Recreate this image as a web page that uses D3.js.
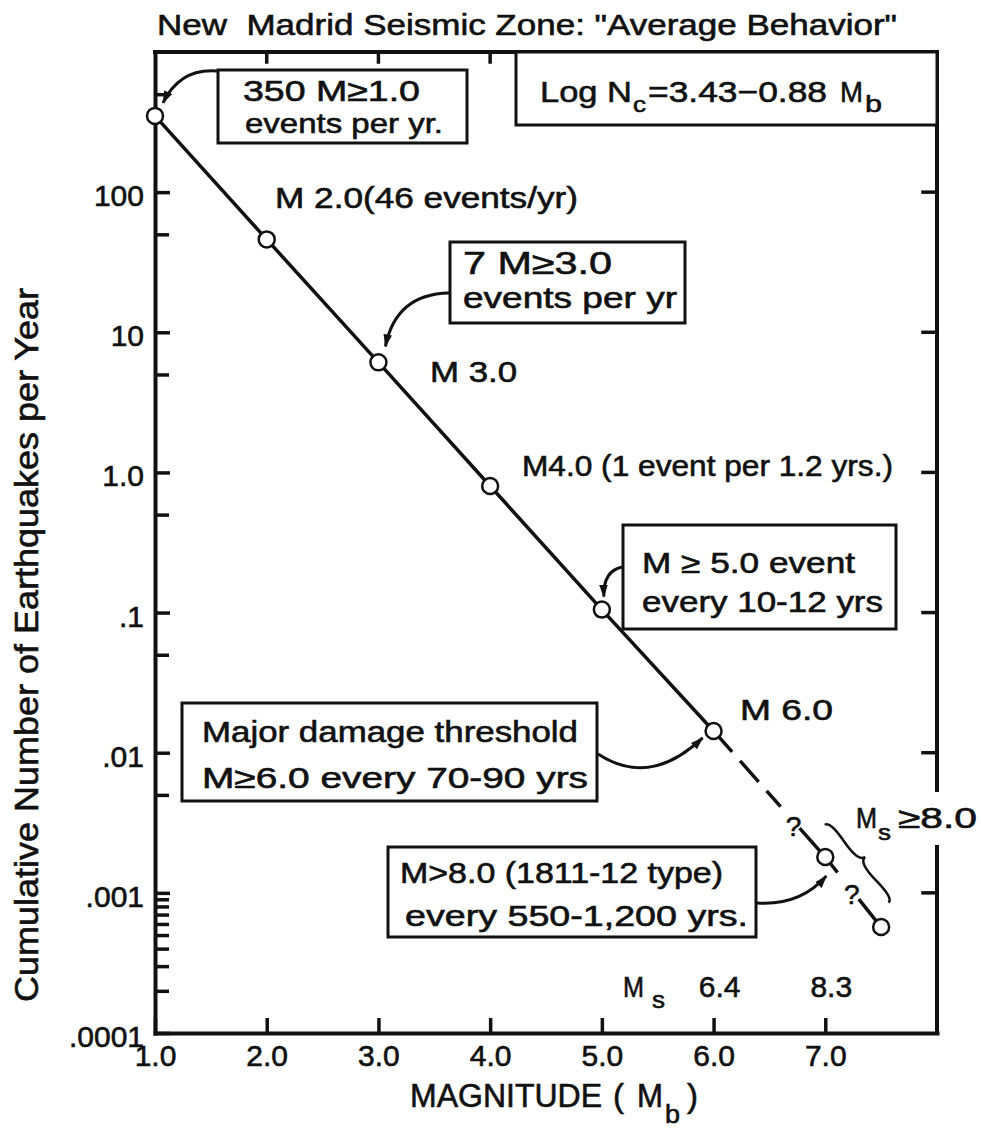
<!DOCTYPE html>
<html>
<head>
<meta charset="utf-8">
<title>New Madrid Seismic Zone: Average Behavior</title>
<script src="https://cdn.jsdelivr.net/npm/d3@7"></script>
<style>
  html, body { margin: 0; padding: 0; background: #fff; }
  svg { display: block; }
  text {
    font-family: "Liberation Sans", Arial, sans-serif;
    fill: #111; stroke: #111; stroke-width: 0.6px;
    white-space: pre;
  }
</style>
</head>
<body>
<svg id="chart" width="981" height="1129"></svg>
<script>
// Cumulative number of events per year vs. body-wave magnitude
const magnitudes = [1.0, 2.0, 3.0, 4.0, 5.0, 6.0, 7.0, 7.5];
const eventsPerYear = [350, 46, 6.1, 0.8, 0.105, 0.0143, 0.0018, 0.00057];

const xTickValues = [1, 2, 3, 4, 5, 6, 7];
const xTickLabels = ["1.0", "2.0", "3.0", "4.0", "5.0", "6.0", "7.0"];
const yTickValues = [0.0001, 0.001, 0.01, 0.1, 1, 10, 100];
const yTickLabels = [".0001", ".001", ".01", ".1", "1.0", "10", "100"];
const yMinorTicks = [500, 50, 5, 0.5, 0.05, 0.005,
  0.0009, 0.0008, 0.0007, 0.0006, 0.0005, 0.0004, 0.0003, 0.0002];
const rightTickValues = [0.001, 0.01, 0.1, 1, 10, 100];

// Ms equivalents printed above the Mb axis
const msMagnitudes = [6, 7];
const msLabels = ["6.4", "8.3"];

// how the fitted line is inked: solid, dashed, broken by "?" marks
const lineSegments = [
  { from: 1.0, to: 6.0, dash: null },
  { from: 6.0, to: 6.6, dash: "28 12" },
  { from: 6.77, to: 7.11, dash: null },
  { from: 7.3, to: 7.5, dash: null },
];
const questionMarks = [6.69, 7.21];

const svg = d3.select("#chart");
svg.append("rect").attr("width", 981).attr("height", 1129).attr("fill", "#fff");

const ink = "#111";
const frame = { left: 155, right: 937, top: 52, bottom: 1033 };

const x = d3.scaleLinear().domain([1, 8]).range([frame.left, frame.right]);
const y = d3.scaleLog().domain([1e-4, 1e3]).range([frame.bottom, frame.top]);

// position on the drawn line (straight between plotted points in log space)
const rateAt = (m) => {
  const i = Math.max(0, Math.min(magnitudes.length - 2, d3.bisectRight(magnitudes, m) - 1));
  const t = (m - magnitudes[i]) / (magnitudes[i + 1] - magnitudes[i]);
  const a = Math.log10(eventsPerYear[i]);
  const b = Math.log10(eventsPerYear[i + 1]);
  return Math.pow(10, a + t * (b - a));
};
const pos = (m) => [x(m), y(rateAt(m))];

// ---- axes ----
const leftAxis = svg.append("g")
  .attr("transform", `translate(${frame.left},0)`)
  .call(
    d3.axisLeft(y).tickValues(yTickValues)
      .tickFormat((d, i) => yTickLabels[i])
      .tickSize(-15).tickSizeOuter(0).tickPadding(11),
  );
leftAxis.select(".domain").attr("stroke", ink).attr("stroke-width", 4)
  .attr("stroke-linecap", "square");
leftAxis.selectAll(".tick line").attr("stroke", ink).attr("stroke-width", 3.5);
leftAxis.selectAll(".tick text").attr("font-size", 30).attr("dy", "0.45em");

const minorAxis = svg.append("g")
  .attr("transform", `translate(${frame.left},0)`)
  .call(d3.axisLeft(y).tickValues(yMinorTicks).tickFormat("").tickSize(-14).tickSizeOuter(0));
minorAxis.select(".domain").remove();
minorAxis.selectAll(".tick line").attr("stroke", ink).attr("stroke-width", 3.5);

const bottomAxis = svg.append("g")
  .attr("transform", `translate(0,${frame.bottom})`)
  .call(
    d3.axisBottom(x).tickValues(xTickValues)
      .tickFormat((d, i) => xTickLabels[i])
      .tickSize(-15).tickSizeOuter(0).tickPadding(12),
  );
bottomAxis.select(".domain").attr("stroke", ink).attr("stroke-width", 4)
  .attr("stroke-linecap", "square");
bottomAxis.selectAll(".tick line").attr("stroke", ink).attr("stroke-width", 3.5);
bottomAxis.selectAll(".tick text").attr("font-size", 30);

// top border with short inward ticks
const border = svg.append("g").attr("stroke", ink).attr("stroke-linecap", "square");
border.append("line")
  .attr("x1", frame.left).attr("x2", frame.right)
  .attr("y1", frame.top).attr("y2", frame.top)
  .attr("stroke-width", 4);
border.selectAll(".top-tick").data(xTickValues.slice(1)).join("line")
  .attr("class", "top-tick")
  .attr("x1", (d) => x(d)).attr("x2", (d) => x(d))
  .attr("y1", frame.top).attr("y2", frame.top + 10)
  .attr("stroke-width", 3.5);

// right border, broken where the Ms>=8.0 note sits
const rightPieces = [[frame.top, 790], [847, frame.bottom]];
border.selectAll(".right-piece").data(rightPieces).join("line")
  .attr("class", "right-piece")
  .attr("x1", frame.right).attr("x2", frame.right)
  .attr("y1", (d) => d[0]).attr("y2", (d) => d[1])
  .attr("stroke-width", 4);
border.selectAll(".right-tick").data(rightTickValues).join("line")
  .attr("class", "right-tick")
  .attr("x1", frame.right).attr("x2", frame.right - 14)
  .attr("y1", (d) => y(d)).attr("y2", (d) => y(d))
  .attr("stroke-width", 3.5);

// ---- fitted line and points ----
const line = d3.line();
const lineLayer = svg.append("g").attr("fill", "none").attr("stroke", ink)
  .attr("stroke-width", 3.5);
lineLayer.selectAll("path").data(lineSegments).join("path")
  .attr("d", (s) => {
    const ms = [s.from, ...magnitudes.filter((m) => m > s.from && m < s.to), s.to];
    return line(ms.map(pos));
  })
  .attr("stroke-dasharray", (s) => s.dash);

svg.append("g").selectAll("text").data(questionMarks).join("text")
  .attr("x", (m) => pos(m)[0] + 3)
  .attr("y", (m) => pos(m)[1] + 18)
  .attr("text-anchor", "middle")
  .attr("font-size", 28)
  .text("?");

svg.append("g").selectAll("circle")
  .data(magnitudes.map((m, i) => ({ m, n: eventsPerYear[i] })))
  .join("circle")
  .attr("cx", (d) => x(d.m))
  .attr("cy", (d) => y(d.n))
  .attr("r", 8)
  .attr("fill", "#fff")
  .attr("stroke", ink)
  .attr("stroke-width", 2.5);

// curly brace beside the Ms >= 8.0 part of the line
function curlyBrace(p1, p2, w, q) {
  let dx = p1[0] - p2[0], dy = p1[1] - p2[1];
  const len = Math.hypot(dx, dy);
  dx /= len; dy /= len;
  const [x1, y1] = p1, [x2, y2] = p2;
  const qx1 = x1 + q * w * dy, qy1 = y1 - q * w * dx;
  const qx2 = (x1 - 0.25 * len * dx) + (1 - q) * w * dy, qy2 = (y1 - 0.25 * len * dy) - (1 - q) * w * dx;
  const tx = (x1 - 0.5 * len * dx) + w * dy, ty = (y1 - 0.5 * len * dy) - w * dx;
  const qx3 = x2 + q * w * dy, qy3 = y2 - q * w * dx;
  const qx4 = (x1 - 0.75 * len * dx) + (1 - q) * w * dy, qy4 = (y1 - 0.75 * len * dy) - (1 - q) * w * dx;
  return `M${x1},${y1}Q${qx1},${qy1} ${qx2},${qy2}T${tx},${ty}` +
    `M${x2},${y2}Q${qx3},${qy3} ${qx4},${qy4}T${tx},${ty}`;
}
const offsetOut = (m, d) => {
  const a = pos(6.9), b = pos(7.4);
  const L = Math.hypot(b[0] - a[0], b[1] - a[1]);
  const nx = (b[1] - a[1]) / L, ny = -(b[0] - a[0]) / L;
  const p = pos(m);
  return [p[0] + nx * d, p[1] + ny * d];
};
svg.append("path")
  .attr("d", curlyBrace(offsetOut(7.42, 21), offsetOut(6.85, 21), 11, 0.6))
  .attr("fill", "none").attr("stroke", ink).attr("stroke-width", 2.5);

// ---- annotation boxes and leaders ----
const boxes = [
  { x: 218, y: 70, w: 249, h: 73 },
  { x: 516, y: frame.top, w: frame.right - 516, h: 73 },
  { x: 450, y: 242, w: 235, h: 81 },
  { x: 623, y: 525, w: 273, h: 104 },
  { x: 182, y: 703, w: 415, h: 98 },
  { x: 388, y: 847, w: 368, h: 90 },
];
svg.append("g").selectAll("rect").data(boxes).join("rect")
  .attr("x", (d) => d.x).attr("y", (d) => d.y)
  .attr("width", (d) => d.w).attr("height", (d) => d.h)
  .attr("fill", "#fff").attr("stroke", ink).attr("stroke-width", 3);

svg.append("defs").append("marker")
  .attr("id", "head")
  .attr("viewBox", "0 0 12 8")
  .attr("refX", 11).attr("refY", 4)
  .attr("markerWidth", 13).attr("markerHeight", 9)
  .attr("markerUnits", "userSpaceOnUse")
  .attr("orient", "auto")
  .append("path").attr("d", "M0,0L12,4L0,8Z").attr("fill", ink);

const leaders = [
  { from: [217, 71], ctrl: [180, 68], m: 1.0, off: [8, -13] },
  { from: [449, 293], ctrl: [396, 294], m: 3.0, off: [7, -16] },
  { from: [622, 567], ctrl: [603, 571], m: 5.0, off: [2, -13] },
  { from: [598, 754], ctrl: [650, 788], m: 6.0, off: [-11, 7] },
  { from: [757, 903], ctrl: [800, 906], m: 7.0, off: [1, 19] },
];
svg.append("g").selectAll("path").data(leaders).join("path")
  .attr("d", (d) => {
    const p = pos(d.m);
    const tip = [p[0] + d.off[0], p[1] + d.off[1]];
    return `M${d.from}Q${d.ctrl} ${tip}`;
  })
  .attr("fill", "none").attr("stroke", ink).attr("stroke-width", 3)
  .attr("marker-end", "url(#head)");

// ---- texts ----
const texts = [
  { x: 157, y: 35, t: 'New  Madrid Seismic Zone: "Average Behavior"', len: 740, fs: 29 },
  { x: 243, y: 101, t: "350 M≥1.0", len: 177, fs: 30 },
  { x: 245, y: 133, t: "events per yr.", len: 198, fs: 28 },
  { x: 540, y: 102, t: "Log N", len: 92, fs: 30 },
  { x: 633, y: 112, t: "c", len: 13, fs: 22 },
  { x: 648, y: 102, t: "=3.43−0.88", len: 179, fs: 30 },
  { x: 840, y: 102, t: "M", len: 23, fs: 30 },
  { x: 865, y: 112, t: "b", len: 17, fs: 24 },
  { x: 275, y: 208, t: "M 2.0(46 events/yr)", len: 303, fs: 29 },
  { x: 463, y: 274, t: "7 M≥3.0", len: 149, fs: 31 },
  { x: 463, y: 308, t: "events per yr", len: 214, fs: 29 },
  { x: 430, y: 382, t: "M 3.0", len: 87, fs: 29 },
  { x: 522, y: 476, t: "M4.0 (1 event per 1.2 yrs.)", len: 371, fs: 29 },
  { x: 642, y: 573, t: "M ≥ 5.0 event", len: 213, fs: 29 },
  { x: 642, y: 612, t: "every 10-12 yrs", len: 241, fs: 29 },
  { x: 740, y: 720, t: "M 6.0", len: 93, fs: 29 },
  { x: 202, y: 742, t: "Major damage threshold", len: 376, fs: 29 },
  { x: 202, y: 788, t: "M≥6.0 every 70-90 yrs", len: 386, fs: 29 },
  { x: 400, y: 883, t: "M>8.0 (1811-12 type)", len: 323, fs: 29 },
  { x: 405, y: 926, t: "every 550-1,200 yrs.", len: 343, fs: 29 },
  { x: 623, y: 997, t: "M", len: 21, fs: 29 },
  { x: 652, y: 1008, t: "s", len: 13, fs: 24 },
  { x: 856, y: 828, t: "M", len: 21, fs: 29 },
  { x: 878, y: 840, t: "s", len: 13, fs: 22 },
  { x: 898, y: 828, t: "≥8.0", len: 79, fs: 29 },
  { x: 410, y: 1107, t: "MAGNITUDE", len: 192, fs: 33 },
  { x: 613, y: 1107, t: "(", len: 11, fs: 33 },
  { x: 637, y: 1107, t: "M", len: 26, fs: 33 },
  { x: 665, y: 1123, t: "b", len: 15, fs: 26 },
  { x: 687, y: 1107, t: ")", len: 11, fs: 33 },
];
svg.append("g").selectAll("text").data(texts).join("text")
  .attr("x", (d) => d.x).attr("y", (d) => d.y)
  .attr("font-size", (d) => d.fs)
  .attr("textLength", (d) => d.len)
  .attr("lengthAdjust", "spacingAndGlyphs")
  .text((d) => d.t);

svg.append("g").selectAll("text").data(msMagnitudes).join("text")
  .attr("x", (m) => x(m) + 6)
  .attr("y", 997)
  .attr("text-anchor", "middle")
  .attr("font-size", 30)
  .text((m, i) => msLabels[i]);

svg.append("text")
  .attr("transform", "translate(38,645) rotate(-90)")
  .attr("text-anchor", "middle")
  .attr("font-size", 33)
  .attr("textLength", 714)
  .attr("lengthAdjust", "spacingAndGlyphs")
  .text("Cumulative Number of Earthquakes per Year");
</script>
</body>
</html>
